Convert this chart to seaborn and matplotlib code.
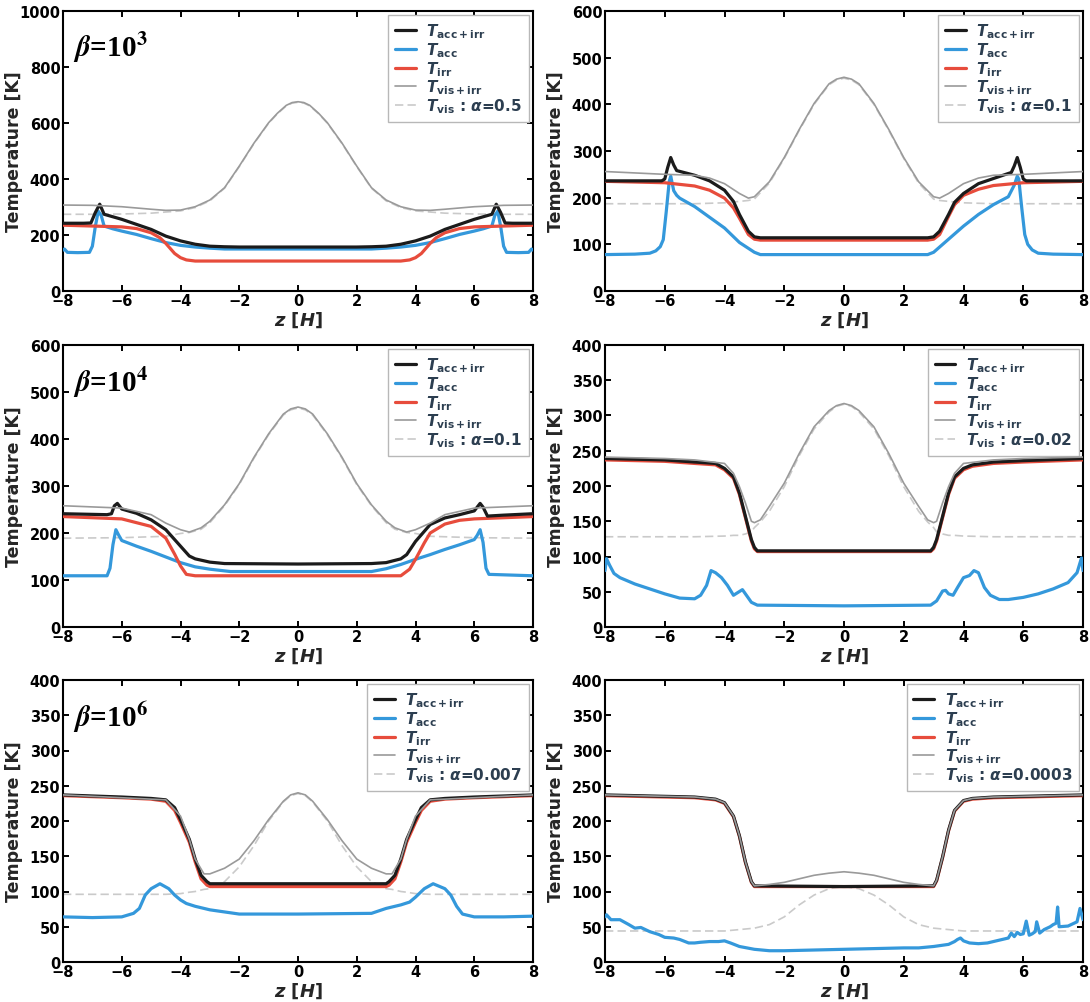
import matplotlib
matplotlib.use("Agg")
import matplotlib.pyplot as plt
import seaborn as sns

# ---------------- data ----------------
# Panel 1: beta=1e3, alpha=0.5
z1_b = [-8, -7.3, -7.05, -6.9, -6.75, -6.6, -6.3, -6, -5.5, -5, -4.5, -4, -3.5, -3, -2.5, -2, 0,
        2, 2.5, 3, 3.5, 4, 4.5, 5, 5.5, 6, 6.3, 6.6, 6.75, 6.9, 7.05, 7.3, 8]
accirr1 = [242, 242, 243, 280, 310, 274, 265, 256, 238, 220, 196, 179, 167, 160, 158, 157, 157,
           157, 158, 160, 167, 179, 196, 220, 238, 256, 265, 274, 310, 280, 243, 242, 242]
z1_c = [-8, -7.95, -7.85, -7.5, -7.1, -7.0, -6.9, -6.8, -6.7, -6.6, -6.3, -6, -5.5, -5, -4.5, -4, -3.5, -3, -2.5, 0,
        2.5, 3, 3.5, 4, 4.5, 5, 5.5, 6, 6.3, 6.6, 6.7, 6.8, 6.9, 7.0, 7.1, 7.5, 7.85, 7.95, 8]
acc1 = [146, 150, 138, 137, 138, 160, 230, 285, 270, 232, 222, 214, 202, 187, 173, 163, 157, 153, 150, 150,
        150, 153, 157, 163, 173, 187, 202, 214, 222, 232, 270, 285, 230, 160, 138, 137, 138, 150, 146]
z1_r = [-8, -7, -6, -5.5, -5, -4.7, -4.5, -4.2, -4, -3.8, -3.5, 0, 3.5, 3.8, 4, 4.2, 4.5, 4.7, 5, 5.5, 6, 7, 8]
irr1 = [235, 232, 229, 223, 208, 190, 170, 134, 119, 111, 107, 107, 107, 111, 119, 134, 170, 190, 208, 223, 229, 232, 235]
z1_g = [-8, -7, -6, -5, -4.5, -4, -3.5, -3, -2.5, -2, -1.5, -1, -0.7, -0.4, -0.2, 0,
        0.2, 0.4, 0.7, 1, 1.5, 2, 2.5, 3, 3.5, 4, 4.5, 5, 6, 7, 8]
visirr1 = [307, 306, 301, 292, 288, 289, 301, 325, 369, 446, 528, 601, 635, 663, 673, 676,
           673, 663, 635, 601, 528, 446, 369, 325, 301, 289, 288, 292, 301, 306, 307]
vis1 = [274, 274, 275, 278, 282, 286, 298, 322, 367, 444, 526, 599, 633, 661, 671, 674,
        671, 661, 633, 599, 526, 444, 367, 322, 298, 286, 282, 278, 275, 274, 274]

# Panel 2: beta=1e3, alpha=0.1
z2_b = [-8, -6.1, -6.0, -5.9, -5.8, -5.7, -5.6, -5, -4.5, -4, -3.7, -3.5, -3.2, -3, -2.8, 0,
        2.8, 3, 3.2, 3.5, 3.7, 4, 4.5, 5, 5.6, 5.7, 5.8, 5.9, 6.0, 6.1, 8]
accirr2 = [236, 236, 240, 265, 286, 270, 258, 248, 236, 216, 192, 164, 128, 116, 114, 114,
           114, 116, 128, 164, 190, 209, 230, 241, 254, 268, 286, 265, 240, 236, 236]
z2_c = [-8, -7, -6.5, -6.3, -6.15, -6.05, -5.95, -5.85, -5.8, -5.7, -5.6, -5.5, -5, -4.5, -4, -3.5, -3, -2.8, 0,
        2.8, 3, 3.5, 4, 4.5, 5, 5.5, 5.7, 5.8, 5.85, 5.95, 6.05, 6.15, 6.3, 6.5, 7, 8]
acc2 = [78, 79, 81, 86, 95, 110, 170, 235, 246, 215, 205, 199, 181, 158, 135, 104, 83, 78, 78,
        78, 83, 111, 139, 164, 185, 202, 227, 246, 240, 178, 121, 100, 88, 81, 79, 78]
z2_r = [-8, -6, -5, -4.5, -4, -3.7, -3.5, -3.2, -3, -2.8, 0, 2.8, 3, 3.2, 3.5, 3.7, 4, 4.5, 5, 6, 8]
irr2 = [235, 232, 225, 216, 199, 178, 156, 121, 111, 109, 109, 109, 111, 121, 160, 185, 205, 218, 226, 232, 235]
z2_g = [-8, -6, -5, -4.5, -4, -3.5, -3.2, -3, -2.5, -2, -1.5, -1, -0.5, -0.25, 0,
        0.25, 0.5, 1, 1.5, 2, 2.5, 3, 3.2, 3.5, 4, 4.5, 5, 6, 8]
visirr2 = [256, 250, 248, 242, 230, 209, 199, 202, 234, 286, 346, 402, 444, 454, 458,
           454, 444, 402, 346, 286, 234, 202, 199, 209, 230, 242, 248, 250, 256]
vis2 = [187, 187, 187, 188, 189, 192, 194, 197, 231, 284, 344, 400, 442, 452, 456,
        452, 442, 400, 344, 284, 231, 197, 194, 192, 189, 188, 187, 187, 187]

# Panel 3: beta=1e4, alpha=0.1
z3_b = [-8, -6.5, -6.35, -6.25, -6.15, -6.0, -5.5, -5, -4.5, -4, -3.7, -3.5, -3, -2.5, 0,
        2.5, 3, 3.5, 3.7, 4, 4.5, 5, 5.5, 6, 6.1, 6.2, 6.3, 6.45, 7, 8]
accirr3 = [241, 239, 241, 258, 263, 251, 242, 228, 207, 172, 151, 145, 138, 135, 134,
           135, 137, 145, 154, 182, 218, 232, 239, 247, 255, 263, 255, 236, 238, 241]
z3_c = [-8, -6.5, -6.4, -6.3, -6.2, -6.1, -6.0, -5.5, -5, -4.5, -4, -3.5, -3, -2.3, 0,
        2.5, 3, 3.5, 4, 4.5, 5, 5.5, 6, 6.1, 6.2, 6.3, 6.4, 6.5, 8]
acc3 = [109, 109, 125, 175, 207, 195, 184, 172, 161, 149, 137, 128, 123, 118, 118,
        118, 124, 133, 144, 154, 165, 175, 186, 195, 207, 180, 125, 112, 109]
z3_r = [-8, -6, -5, -4.5, -4.2, -4, -3.8, -3.5, 0, 3.5, 3.8, 4, 4.3, 4.5, 5, 5.5, 6, 8]
irr3 = [235, 230, 214, 189, 155, 130, 112, 109, 109, 109, 123, 144, 179, 200, 219, 227, 230, 235]
z3_g = [-8, -6, -5, -4.5, -4, -3.7, -3.3, -3, -2.5, -2, -1.5, -1, -0.5, -0.25, 0,
        0.25, 0.5, 1, 1.5, 2, 2.5, 3, 3.3, 3.7, 4, 4.5, 5, 6, 8]
visirr3 = [258, 253, 239, 221, 207, 202, 211, 225, 260, 305, 361, 411, 453, 464, 468,
           464, 453, 411, 361, 305, 260, 225, 211, 202, 207, 221, 239, 253, 258]
vis3 = [189, 190, 192, 193, 199, 201, 208, 222, 258, 303, 359, 409, 451, 462, 466,
        462, 451, 409, 359, 303, 258, 222, 208, 201, 199, 193, 192, 190, 189]

# Panel 4: beta=1e4, alpha=0.02
z4_b = [-8, -6, -5, -4.3, -4, -3.7, -3.5, -3.3, -3.1, -3.0, -2.9, 0,
        2.9, 3.0, 3.1, 3.3, 3.5, 3.7, 4, 4.3, 5, 6, 8]
accirr4 = [239, 237, 234, 232, 225, 213, 190, 157, 124, 113, 108, 108,
           108, 113, 124, 157, 190, 213, 225, 230, 234, 236, 239]
irr4 = [237, 235, 232, 230, 223, 211, 188, 155, 122, 111, 107, 107,
        107, 111, 122, 155, 188, 211, 223, 228, 232, 234, 237]
z4_c = [-8, -7.95, -7.85, -7.7, -7.5, -7, -6.5, -6, -5.5, -5, -4.8, -4.6, -4.45, -4.3, -4.1, -3.9, -3.7,
        -3.55, -3.4, -3.3, -3.1, -2.9, 0, 2.9, 3.1, 3.3, 3.4, 3.5, 3.65, 3.8, 4.0, 4.2, 4.35, 4.5, 4.7,
        4.9, 5.2, 5.5, 6, 6.5, 7, 7.5, 7.8, 7.95, 8]
acc4 = [80, 97, 88, 76, 70, 61, 54, 47, 41, 40, 45, 59, 80, 77, 70, 59, 45,
        49, 53, 47, 35, 31, 30, 31, 37, 51, 52, 47, 45, 56, 70, 73, 80, 77, 56,
        45, 39, 39, 42, 47, 54, 63, 77, 98, 80]
z4_g = [-8, -6, -5, -4, -3.7, -3.5, -3.3, -3.1, -3.0, -2.8, -2.5, -2, -1.5, -1, -0.5, -0.25, 0,
        0.25, 0.5, 1, 1.5, 2, 2.5, 2.8, 3.0, 3.1, 3.3, 3.5, 3.7, 4, 5, 6, 8]
visirr4 = [241, 239, 237, 232, 218, 199, 176, 150, 148, 152, 171, 204, 246, 284, 307, 314, 317,
           314, 307, 284, 246, 204, 171, 152, 148, 150, 176, 199, 218, 232, 237, 239, 241]
vis4 = [128, 128, 128, 129, 130, 130, 132, 135, 141, 149, 164, 199, 243, 281, 305, 313, 316,
        313, 305, 281, 243, 199, 164, 149, 141, 135, 132, 130, 130, 129, 128, 128, 128]

# Panel 5: beta=1e6, alpha=0.007
z5_b = [-8, -6, -5, -4.5, -4.2, -4, -3.7, -3.5, -3.3, -3.1, -3.0, 0,
        3.0, 3.1, 3.3, 3.5, 3.7, 4, 4.2, 4.5, 5, 6, 8]
accirr5 = [237, 234, 232, 230, 219, 202, 174, 146, 123, 114, 111, 111,
           111, 114, 123, 146, 174, 202, 219, 230, 232, 234, 237]
irr5 = [236, 233, 231, 228, 215, 198, 170, 142, 118, 109, 107, 107,
        107, 109, 118, 142, 170, 198, 215, 228, 231, 233, 236]
z5_c = [-8, -7, -6, -5.6, -5.4, -5.2, -5, -4.7, -4.4, -4.2, -4, -3.8, -3.5, -3, -2.5, -2, 0,
        2.5, 3, 3.5, 3.8, 4, 4.3, 4.6, 5.0, 5.2, 5.4, 5.6, 6, 7, 8]
acc5 = [64, 63, 64, 69, 76, 95, 104, 111, 104, 95, 88, 83, 79, 74, 71, 68, 68,
        69, 76, 81, 85, 92, 104, 111, 104, 95, 79, 68, 64, 64, 65]
z5_g = [-8, -6, -5, -4.5, -4, -3.7, -3.5, -3.2, -3.0, -2.5, -2, -1.5, -1, -0.5, -0.25, 0,
        0.25, 0.5, 1, 1.5, 2, 2.5, 3.0, 3.2, 3.5, 3.7, 4, 4.5, 5, 6, 8]
visirr5 = [237, 233, 231, 230, 207, 174, 146, 125, 125, 133, 146, 172, 202, 228, 237, 240,
           237, 228, 202, 172, 146, 133, 125, 125, 146, 174, 207, 230, 231, 233, 237]
vis5 = [96, 96, 96, 96, 97, 99, 100, 103, 104, 114, 135, 165, 200, 227, 236, 239,
        236, 227, 200, 165, 135, 114, 104, 103, 100, 99, 97, 96, 96, 96, 96]

# Panel 6: beta=1e6, alpha=0.0003
z6_b = [-8, -6, -5, -4.3, -4, -3.7, -3.5, -3.3, -3.1, -3.0, 0,
        3.0, 3.1, 3.3, 3.5, 3.7, 4.0, 4.3, 5, 8]
accirr6 = [237, 235, 234, 231, 226, 207, 179, 142, 114, 108, 107,
           108, 116, 149, 187, 215, 229, 232, 234, 237]
irr6 = [236, 234, 233, 230, 225, 206, 178, 141, 113, 107, 107,
        107, 115, 148, 186, 214, 228, 231, 233, 236]
z6_c = [-8, -7.95, -7.8, -7.5, -7.2, -7, -6.8, -6.5, -6.2, -6, -5.7, -5.5, -5.2, -5, -4.8, -4.5, -4.2, -4,
        -3.8, -3.5, -3, -2.5, -2, -1, 0, 1, 2, 2.5, 3, 3.5, 3.7, 3.8, 3.9, 4.0, 4.2, 4.5, 4.8, 5.0, 5.3,
        5.5, 5.6, 5.7, 5.8, 5.9, 6.0, 6.1, 6.2, 6.3, 6.4, 6.45, 6.55, 6.7, 6.9, 7.0, 7.1, 7.15, 7.2,
        7.5, 7.8, 7.9, 8.0]
acc6 = [64, 67, 60, 60, 53, 48, 49, 43, 39, 35, 34, 32, 27, 27, 28, 29, 29, 30,
        27, 22, 18, 16, 16, 17, 18, 19, 20, 20, 22, 25, 29, 32, 34, 30, 27, 26, 27, 29, 32,
        34, 41, 36, 42, 39, 40, 58, 38, 40, 43, 57, 41, 46, 50, 53, 55, 78, 50,
        51, 57, 76, 60]
z6_g = [-8, -6, -5, -4.3, -4, -3.7, -3.5, -3.3, -3.1, -3.0, -2.5, -2, -1.5, -1, -0.5, 0,
        0.5, 1, 1.5, 2, 2.5, 3.0, 3.1, 3.3, 3.5, 3.7, 4.0, 4.3, 5, 8]
visirr6 = [237, 235, 234, 231, 226, 207, 179, 142, 114, 108, 110, 113, 118, 123, 126, 128,
           126, 123, 118, 113, 110, 108, 116, 149, 187, 215, 229, 232, 234, 237]
z6_v = [-8, -4, -3, -2.5, -2, -1.5, -1, -0.5, 0, 0.5, 1, 1.5, 2, 2.5, 3, 4, 8]
vis6 = [44, 44, 48, 53, 64, 81, 95, 104, 107, 104, 95, 81, 64, 53, 48, 44, 44]

alphas = ["0.5", "0.1", "0.1", "0.02", "0.007", "0.0003"]
betas = ["3", None, "4", None, "6", None]
ymaxes = [1000, 600, 600, 400, 400, 400]
ysteps = [200, 100, 100, 50, 50, 50]
xticks = [-8, -6, -4, -2, 0, 2, 4, 6, 8]

# ---------------- style ----------------
sns.set_style("ticks")
plt.rcParams.update({
    "font.family": ["DejaVu Sans"],
    "font.weight": "bold",
    "axes.labelweight": "bold",
    "mathtext.fontset": "dejavusans",
    "xtick.direction": "in",
    "ytick.direction": "in",
    "xtick.top": True,
    "ytick.right": True,
    "xtick.major.size": 4,
    "ytick.major.size": 4,
    "xtick.major.width": 1.4,
    "ytick.major.width": 1.4,
    "xtick.major.pad": 1.8,
    "ytick.major.pad": 1.8,
    "axes.linewidth": 1.5,
    "axes.edgecolor": "black",
    "xtick.color": "black",
    "ytick.color": "black",
    "xtick.labelsize": 10.5,
    "ytick.labelsize": 10.5,
})

C_BLK = "#1b1b1b"
C_BLU = "#3498db"
C_RED = "#e74c3c"
C_GRY = "#9a9a9a"
C_DSH = "#cacaca"
TXT = "#2c3e50"

fig = plt.figure(figsize=(10.9, 10.03), dpi=100)
W, H = 1090, 1003
cols = [(63, 533), (605, 1083)]
rows = [(12, 292), (346, 628), (681, 963)]

panels = [
    (z1_b, accirr1, z1_c, acc1, z1_r, irr1, z1_g, visirr1, z1_g, vis1),
    (z2_b, accirr2, z2_c, acc2, z2_r, irr2, z2_g, visirr2, z2_g, vis2),
    (z3_b, accirr3, z3_c, acc3, z3_r, irr3, z3_g, visirr3, z3_g, vis3),
    (z4_b, accirr4, z4_c, acc4, z4_b, irr4, z4_g, visirr4, z4_g, vis4),
    (z5_b, accirr5, z5_c, acc5, z5_b, irr5, z5_g, visirr5, z5_g, vis5),
    (z6_b, accirr6, z6_c, acc6, z6_b, irr6, z6_g, visirr6, z6_v, vis6),
]

lab_ai = r"$\boldsymbol{T}_{\mathbf{acc+irr}}$"
lab_a = r"$\boldsymbol{T}_{\mathbf{acc}}$"
lab_i = r"$\boldsymbol{T}_{\mathbf{irr}}$"
lab_vi = r"$\boldsymbol{T}_{\mathbf{vis+irr}}$"

for k, p in enumerate(panels):
    r, c = divmod(k, 2)
    x0, x1 = cols[c]
    y0, y1 = rows[r]
    ax = fig.add_axes([x0 / W, 1 - y1 / H, (x1 - x0) / W, (y1 - y0) / H])
    zb, vb, zc, vc, zr, vr, zg, vg, zv, vv = p
    lab_v = r"$\boldsymbol{T}_{\mathbf{vis}}$ : $\boldsymbol{\alpha}$=" + alphas[k]
    sns.lineplot(x=zb, y=vb, ax=ax, color=C_BLK, lw=2.3, label=lab_ai, zorder=5)
    sns.lineplot(x=zc, y=vc, ax=ax, color=C_BLU, lw=2.3, label=lab_a, zorder=3)
    sns.lineplot(x=zr, y=vr, ax=ax, color=C_RED, lw=2.3, label=lab_i, zorder=4)
    sns.lineplot(x=zg, y=vg, ax=ax, color=C_GRY, lw=1.2, label=lab_vi, zorder=6)
    sns.lineplot(x=zv, y=vv, ax=ax, color=C_DSH, lw=1.2, label=lab_v, zorder=2,
                 linestyle=(0, (5, 2.5)))
    ax.set_xlim(-8, 8)
    ax.set_ylim(0, ymaxes[k])
    ax.set_xticks(xticks)
    ax.set_yticks(range(0, ymaxes[k] + 1, ysteps[k]))
    for t in ax.get_xticklabels() + ax.get_yticklabels():
        t.set_fontweight("bold")
    ax.set_xlabel(r"$\boldsymbol{z}$ [$\boldsymbol{H}$]", fontsize=13, fontweight="bold", labelpad=1)
    ax.set_ylabel("Temperature [K]", fontsize=12.5, fontweight="bold")
    ax.yaxis.set_label_coords(-40 / (x1 - x0), 0.5)
    leg = ax.legend(loc="upper right", fontsize=11, handlelength=1.35, labelspacing=0.0,
                    borderaxespad=0.25, fancybox=False, framealpha=1, edgecolor="#b8b8b8",
                    borderpad=0.45, handletextpad=0.7)
    leg.get_frame().set_linewidth(1.0)
    for t in leg.get_texts():
        t.set_color(TXT)
        t.set_fontweight("bold")
    if betas[k]:
        ax.text(0.022, 0.935, r"$\boldsymbol{\beta}$=10$^{\mathbf{" + betas[k] + "}}$",
                transform=ax.transAxes, va="top", ha="left", fontsize=21,
                family="Liberation Serif", fontweight="bold",
                math_fontfamily="stix", color="black")

fig.savefig("out.png", dpi=100)
